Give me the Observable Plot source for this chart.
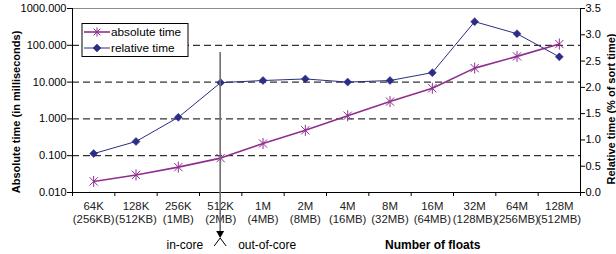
<!DOCTYPE html>
<html>
<head>
<meta charset="utf-8">
<script src="https://cdn.jsdelivr.net/npm/d3@7"></script>
<script src="https://cdn.jsdelivr.net/npm/@observablehq/plot@0.6"></script>
<style>
  html, body { margin: 0; padding: 0; background: #fff; }
  #wrap { position: relative; width: 616px; height: 254px; overflow: hidden; }
  #wrap svg { position: absolute; left: 0; top: 0; overflow: visible; }
</style>
</head>
<body>
<div id="wrap"></div>
<script>
// ---- data ----
const categories = ["64K","128K","256K","512K","1M","2M","4M","8M","16M","32M","64M","128M"];
const sizes = ["(256KB)","(512KB)","(1MB)","(2MB)","(4MB)","(8MB)","(16MB)","(32MB)","(64MB)","(128MB)","(256MB)","(512MB)"];
const absoluteTime = [0.020, 0.030, 0.049, 0.086, 0.214, 0.49, 1.22, 2.95, 6.8, 24, 50, 108];
const relativeTime = [0.74, 0.97, 1.43, 2.09, 2.13, 2.16, 2.10, 2.13, 2.28, 3.25, 3.02, 2.58];
const leftTicks = [0.01, 0.1, 1, 10, 100, 1000];
const gridTicks = [0.1, 1, 10, 100];
const rightTicks = [0, 0.5, 1, 1.5, 2, 2.5, 3, 3.5];
const splitCategory = "512K";
const legendLabels = ["absolute time", "relative time"];
const titles = {
  left: "Absolute time (in milliseconds)",
  right: "Relative time (% of sort time)",
  x: "Number of floats",
  inCore: "in-core",
  outCore: "out-of-core"
};

const purple = "#8e2f8e";
const navy = "#2b2d86";
const W = 616, H = 254;
const margins = {marginLeft: 72, marginRight: 36, marginTop: 8, marginBottom: 62};
const idx = categories.map((_, i) => i);
const bounds = d3.range(categories.length + 1);
const absData = idx.map(i => ({i, v: absoluteTime[i]}));
const relData = idx.map(i => ({i, v: relativeTime[i]}));

// Excel-like star marker: vertical line + X
const star = {
  draw(ctx, size) {
    const r = Math.sqrt(size / Math.PI);
    const d = r * 0.75;
    ctx.moveTo(0, -r); ctx.lineTo(0, r);
    ctx.moveTo(-d, -d); ctx.lineTo(d, d);
    ctx.moveTo(-d, d); ctx.lineTo(d, -d);
  }
};

const style = {fontFamily: "'Liberation Sans', Arial, sans-serif", fontSize: "11px", color: "#000"};

// ---- left plot (log scale, absolute time) ----
const left = Plot.plot({
  width: W, height: H, ...margins,
  style,
  x: {type: "linear", domain: [0, categories.length]},
  y: {type: "log", domain: [0.01, 1000]},
  marks: [
    Plot.ruleY(gridTicks, {stroke: "#000", strokeDasharray: "7,4", strokeWidth: 1}),
    Plot.ruleY([1000], {stroke: "#8c8c8c", strokeWidth: 1.2}),
    Plot.ruleY([0.01], {stroke: "#000"}),
    Plot.ruleX([0], {stroke: "#000"}),
    Plot.axisY({ticks: leftTicks, tickFormat: d3.format(".3f"), tickSize: 5, tickPadding: 1, label: null, fontSize: 11}),
    Plot.axisX({ticks: bounds, tickFormat: () => "", tickSize: 4, label: null}),
    Plot.text(idx, {x: i => i + 0.5, frameAnchor: "bottom", dy: 8, lineAnchor: "top",
      text: i => categories[i] + "\n" + sizes[i], lineHeight: 1.16, fontSize: 11.4, fill: "#222"}),
    Plot.line(absData, {x: d => d.i + 0.5, y: "v", stroke: purple, strokeWidth: 1.6}),
    Plot.dot(absData, {x: d => d.i + 0.5, y: "v", symbol: star, r: 5.5, stroke: purple, fill: "none", strokeWidth: 1})
  ]
});

// ---- right plot (linear scale, relative time) ----
const right = Plot.plot({
  width: W, height: H, ...margins,
  style: {...style, background: "transparent"},
  x: {type: "linear", domain: [0, categories.length], axis: null},
  y: {type: "linear", domain: [0, 3.5], axis: null},
  marks: [
    Plot.ruleX([categories.length], {stroke: "#000"}),
    Plot.axisY({anchor: "right", ticks: rightTicks, tickFormat: d3.format(".1f"), tickSize: 4, tickPadding: 1, label: null, fontSize: 11}),
    Plot.line(relData, {x: d => d.i + 0.5, y: "v", stroke: navy, strokeWidth: 1}),
    Plot.dot(relData, {x: d => d.i + 0.5, y: "v", symbol: "diamond2", r: 3.6, fill: navy, stroke: navy, strokeWidth: 0.5})
  ]
});

const wrap = document.getElementById("wrap");
wrap.append(left, right);

// ---- annotations: titles, arrow, legend ----
const svg = d3.select(right);
const xs = right.scale("x");
const xSplit = xs.apply(categories.indexOf(splitCategory) + 0.5);
const ff = "'Liberation Sans', Arial, sans-serif";

// vertical arrow
svg.append("line").attr("x1", xSplit).attr("x2", xSplit).attr("y1", 52).attr("y2", 234)
  .attr("stroke", "#6e6e6e").attr("stroke-width", 1.6);
svg.append("path").attr("d", `M${xSplit - 4},231 L${xSplit + 4},231 L${xSplit},238 Z`).attr("fill", "#000");
svg.append("path").attr("d", `M${xSplit - 6},246 L${xSplit},238 L${xSplit + 6},246`)
  .attr("fill", "none").attr("stroke", "#000").attr("stroke-width", 1);

const t = (x, y, s, anchor, weight) => svg.append("text").attr("x", x).attr("y", y)
  .attr("text-anchor", anchor).attr("font-family", ff).attr("font-size", 12)
  .attr("font-weight", weight || "normal").attr("fill", "#000").text(s);
t(xSplit - 17, 249, titles.inCore, "end");
t(xSplit + 18, 249, titles.outCore, "start");
t(385, 249, titles.x, "start", "bold");

// axis titles
svg.append("text").attr("transform", "translate(19.5,112) rotate(-90)").attr("text-anchor", "middle")
  .attr("font-family", ff).attr("font-size", 11).attr("font-weight", "bold").text(titles.left);
svg.append("text").attr("transform", "translate(615,109) rotate(-90)").attr("text-anchor", "middle")
  .attr("font-family", ff).attr("font-size", 11).attr("font-weight", "bold").text(titles.right);

// legend
const lg = svg.append("g");
lg.append("rect").attr("x", 82).attr("y", 23.5).attr("width", 106).attr("height", 33)
  .attr("fill", "#fff").attr("stroke", "#000").attr("stroke-width", 1);
const rows = [
  {y: 32, color: purple, w: 1.6},
  {y: 48, color: navy, w: 1}
];
rows.forEach((r, k) => {
  lg.append("line").attr("x1", 84).attr("x2", 110).attr("y1", r.y).attr("y2", r.y)
    .attr("stroke", r.color).attr("stroke-width", r.w);
  const sym = k === 0 ? d3.symbol(star, Math.PI * 4.5 * 4.5) : d3.symbol(d3.symbolDiamond2, Math.PI * 3.6 * 3.6);
  lg.append("path").attr("d", sym()).attr("transform", `translate(97,${r.y})`)
    .attr("fill", k === 0 ? "none" : r.color).attr("stroke", r.color).attr("stroke-width", k === 0 ? 1 : 0.5);
  lg.append("text").attr("x", 111).attr("y", r.y + 4).attr("text-anchor", "start").attr("font-family", ff).attr("font-size", 11.8)
    .attr("fill", "#000").text(legendLabels[k]);
});
</script>
</body>
</html>
